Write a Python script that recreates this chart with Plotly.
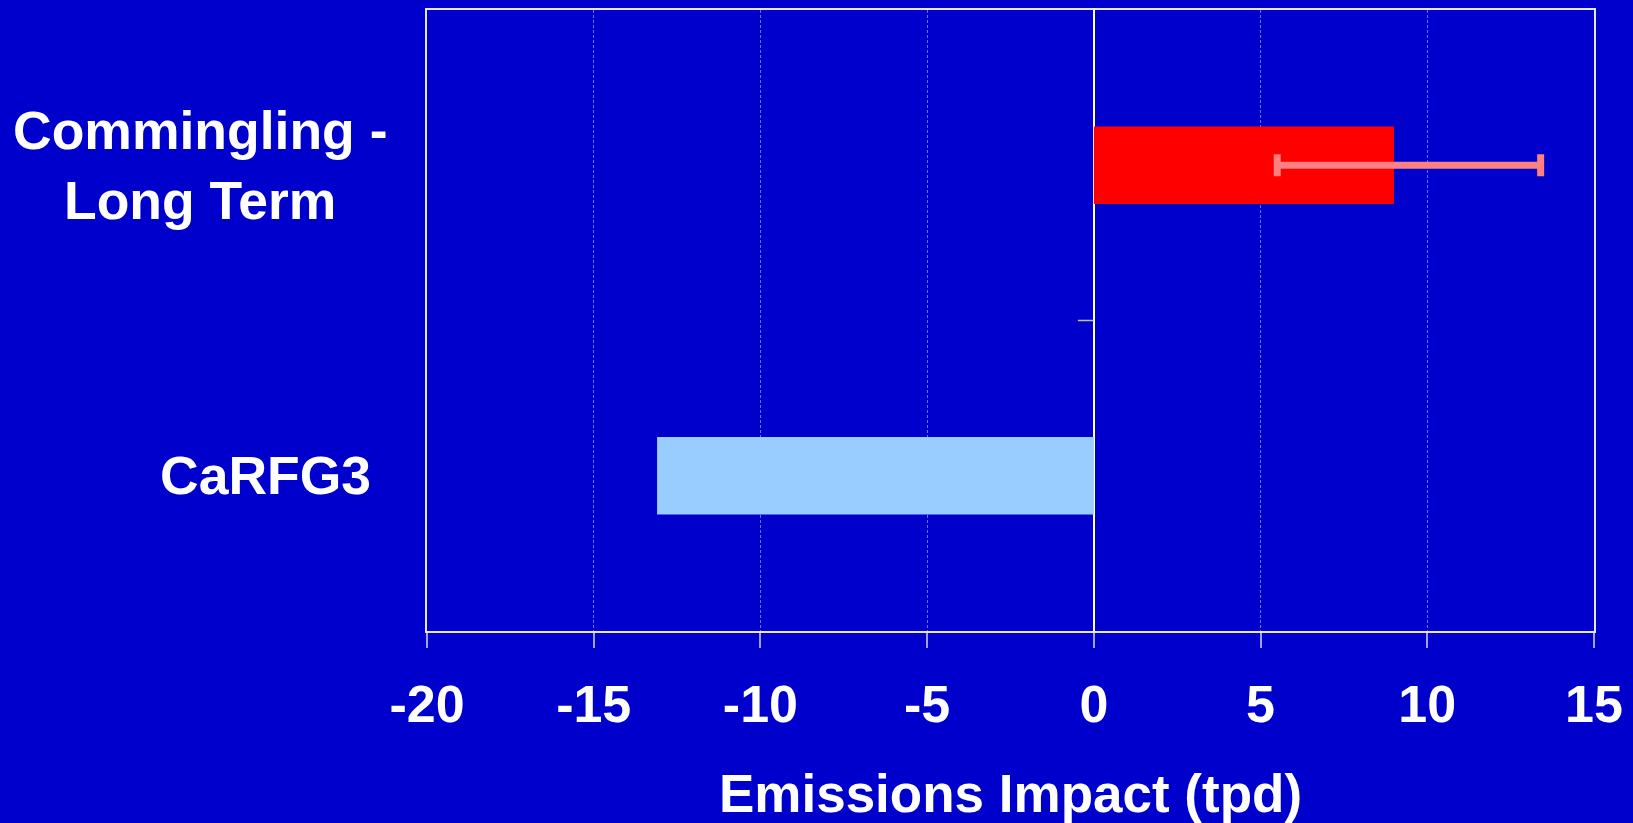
import plotly.graph_objects as go

# Emissions impact by scenario (tons per day)
categories = ["Commingling -<br>Long Term", "CaRFG3"]
commingling_value = [9.0]
commingling_err_plus = [4.4]
commingling_err_minus = [3.5]
carfg3_value = [-13.1]
x_ticks = [-20, -15, -10, -5, 0, 5, 10, 15]

BG = "#0000CC"
FONT = "Arial, Liberation Sans, sans-serif"

fig = go.Figure()

fig.add_trace(go.Bar(
    y=[categories[0]], x=commingling_value, orientation="h",
    marker=dict(color="#FF0000", line=dict(width=0)),
    width=0.25,
    error_x=dict(type="data", symmetric=False,
                 array=commingling_err_plus, arrayminus=commingling_err_minus,
                 color="#FF8080", thickness=7, width=11),
    showlegend=False,
))
fig.add_trace(go.Bar(
    y=[categories[1]], x=carfg3_value, orientation="h",
    marker=dict(color="#99CCFF", line=dict(width=0)),
    width=0.25,
    showlegend=False,
))

fig.update_layout(
    width=1633, height=823,
    paper_bgcolor=BG, plot_bgcolor=BG,
    margin=dict(l=427, r=39, t=10, b=192),
    barmode="overlay",
    font=dict(family=FONT, color="white", size=52, weight="bold"),
    xaxis=dict(
        range=[-20, 15], tickvals=x_ticks, ticktext=[str(v) for v in x_ticks],
        showgrid=True, gridcolor="rgba(170,170,255,0.65)", griddash="3px,2px", gridwidth=1,
        zeroline=True, zerolinecolor="white", zerolinewidth=1.5,
        showline=True, linecolor="#E6E6FF", linewidth=1.5, mirror=True,
        ticks="outside", ticklen=15, tickcolor="rgba(200,200,255,0.8)", tickwidth=1.5,
        tickfont=dict(family=FONT, size=52, color="white", weight="bold"),
        ticklabelstandoff=12,
        title=dict(text="Emissions Impact (tpd)", standoff=53,
                   font=dict(family=FONT, size=53, color="white", weight="bold")),
        automargin=False,
        fixedrange=True,
    ),
    yaxis=dict(
        categoryorder="array", categoryarray=categories,
        range=[1.5, -0.5],
        showticklabels=False, ticks="",
        showgrid=False, zeroline=False,
        showline=True, linecolor="#E6E6FF", linewidth=1.5, mirror=True,
        automargin=False,
        fixedrange=True,
    ),
)

# Category labels, drawn to the left of the plot area
plot_left, plot_w = 427, 1633 - 427 - 39
fig.add_annotation(text="Commingling -<br>Long Term", xref="paper", yref="y",
                   x=(200 - plot_left) / plot_w, y=categories[0],
                   xanchor="center", yanchor="middle", align="center",
                   showarrow=False,
                   font=dict(family=FONT, size=53.5, color="white", weight="bold"))
fig.add_annotation(text="CaRFG3", xref="paper", yref="y",
                   x=(373 - plot_left) / plot_w, y=categories[1],
                   xanchor="right", yanchor="middle", align="right",
                   showarrow=False,
                   font=dict(family=FONT, size=53.5, color="white", weight="bold"))

# Short category divider tick on the zero axis
fig.add_shape(type="line", xref="x", yref="y", xsizemode="pixel", xanchor=0,
              x0=-16, x1=0, y0=0.5, y1=0.5,
              line=dict(color="rgba(210,210,255,0.9)", width=1.5))

fig.write_html("out.html")
